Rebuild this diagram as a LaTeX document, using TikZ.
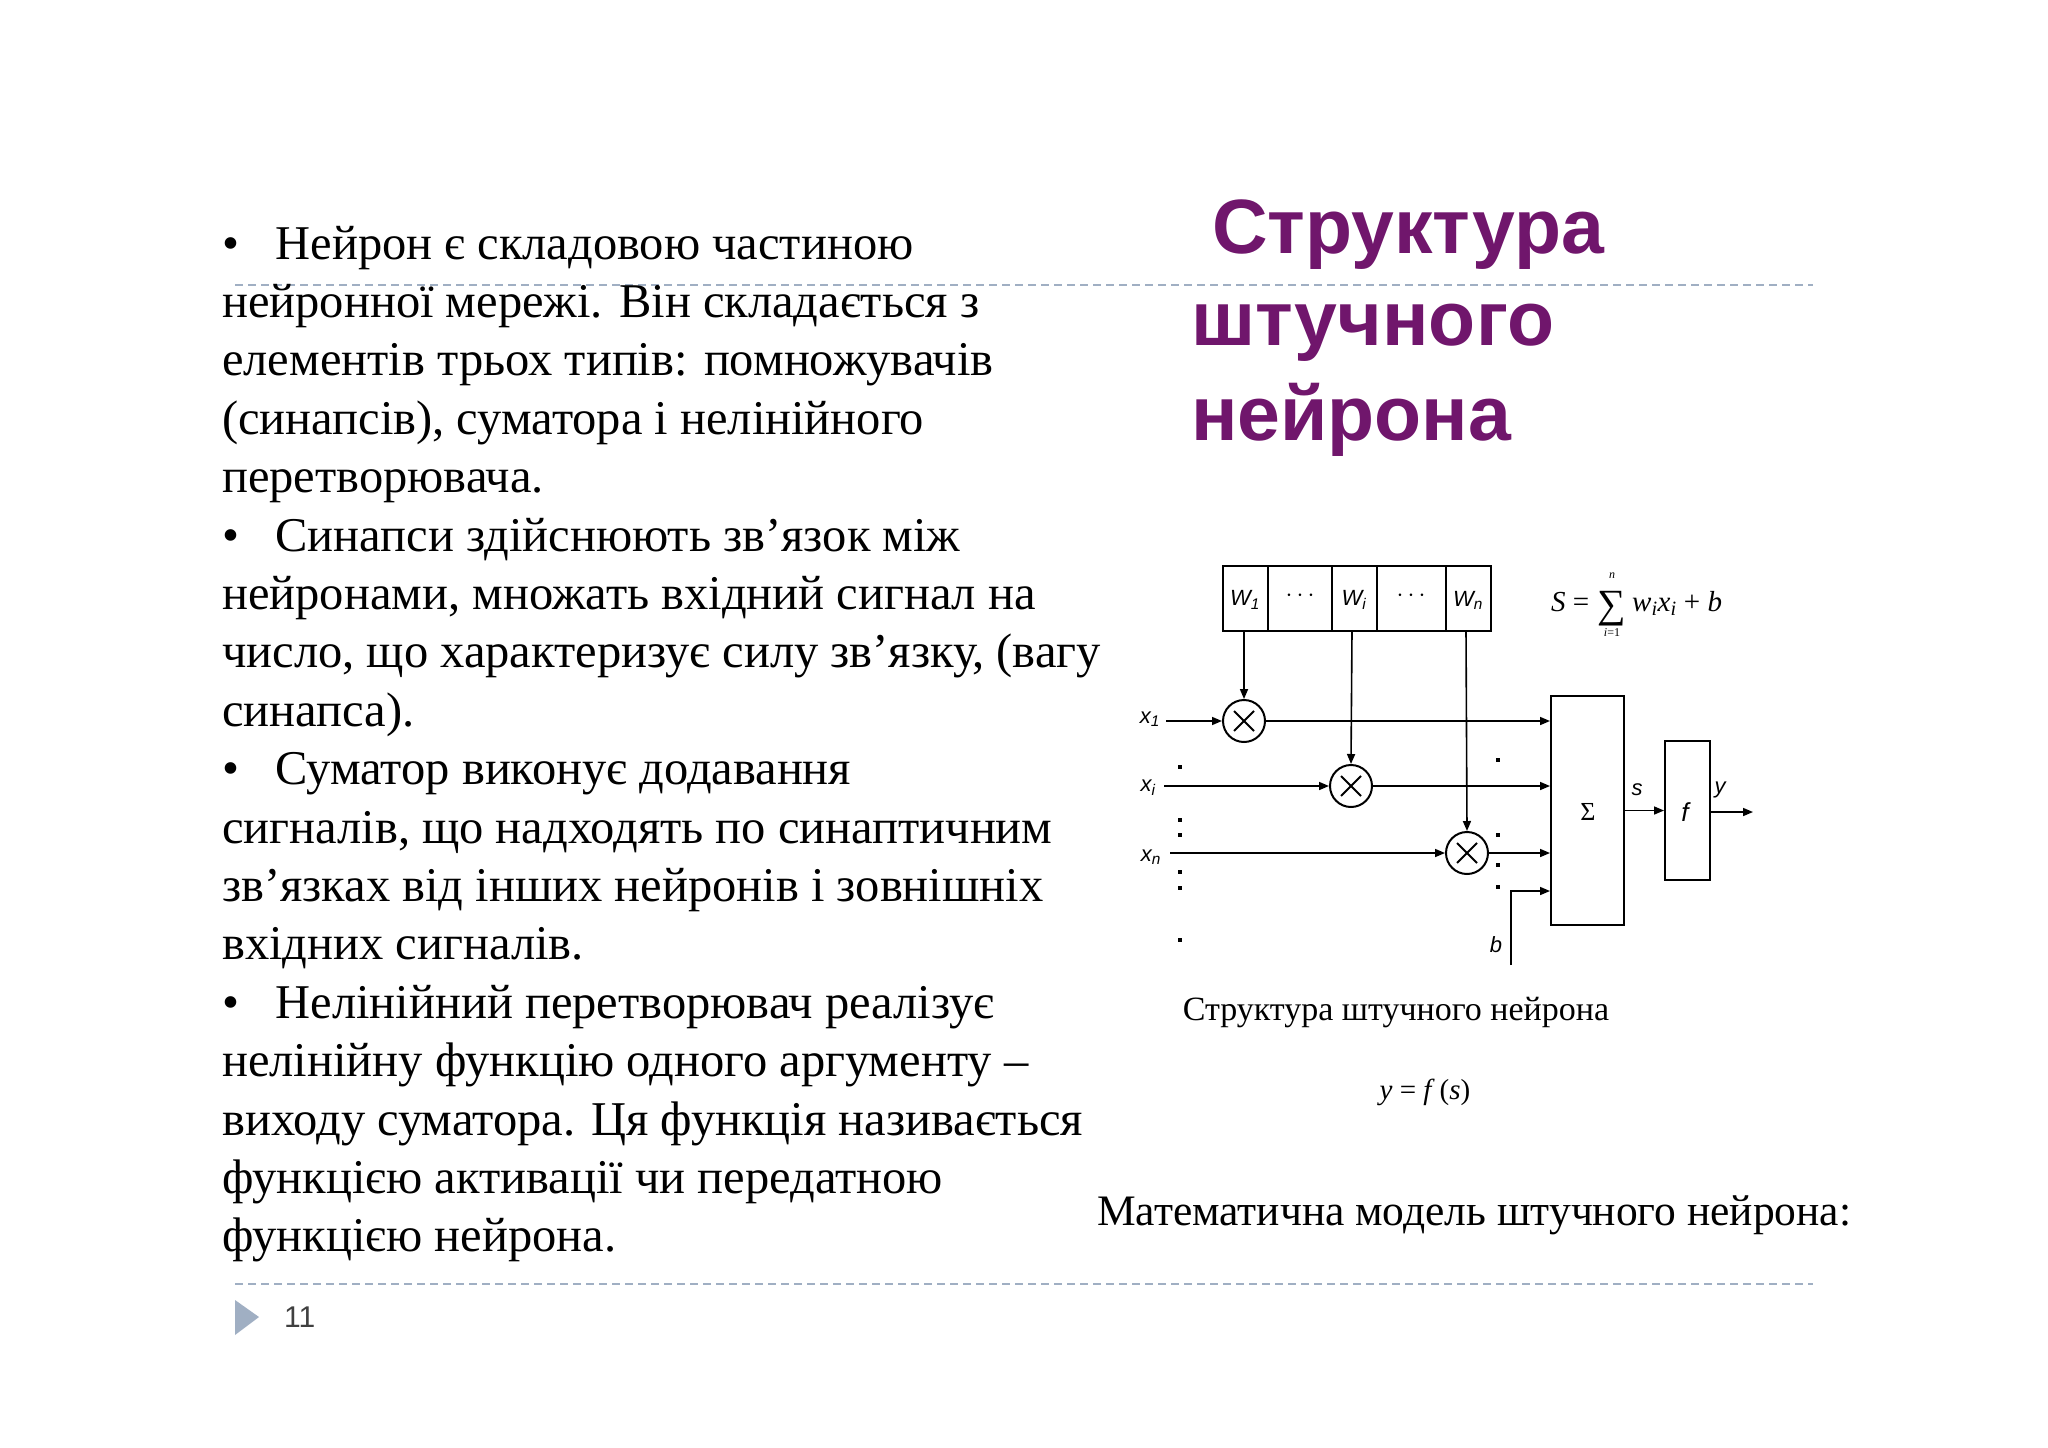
\documentclass[tikz,border=0pt]{standalone}
\usepackage{fontspec}
\setmainfont{Liberation Serif}
\newfontfamily\hsans{Liberation Sans}
\usetikzlibrary{arrows.meta}
\definecolor{titlec}{RGB}{112,22,108}
\definecolor{dashc}{RGB}{160,175,195}
\begin{document}
\begin{tikzpicture}[x=1pt,y=-1pt,
  body/.style={anchor=base west,inner sep=0pt,font=\fontsize{48.5}{52}\selectfont},
  ttl/.style={anchor=base west,inner sep=0pt,text=titlec,font=\hsans\bfseries\fontsize{77}{84}\selectfont},
  lbl/.style={inner sep=0pt,font=\hsans\itshape\fontsize{22}{24}\selectfont},
  ln/.style={line width=1.6pt},
  arr/.style={ln,-{Triangle[length=10pt,width=8pt]}},
  mul/.style={circle,draw,line width=2pt,minimum size=42pt,inner sep=0pt,path picture={\draw[line width=2pt] (path picture bounding box.north west)++(11pt,-11pt) -- ++(20pt,-20pt); \draw[line width=2pt] (path picture bounding box.north east)++(-11pt,-11pt) -- ++(-20pt,-20pt);}},
  dt/.style={fill,inner sep=0pt,minimum size=4pt},
  fm/.style={inner sep=0pt,font=\fontsize{29}{30}\selectfont}]
\useasboundingbox (0,0) rectangle (2048,1448);
\fill[white] (0,0) rectangle (2048,1448);
% dashed lines
\draw[dashc,line width=1.5pt,dash pattern=on 8pt off 5pt] (235,285) -- (1813,285);
\draw[dashc,line width=1.5pt,dash pattern=on 8pt off 5pt] (235,1284) -- (1813,1284);
\fill[dashc] (235,1300) -- (259,1317) -- (235,1335) -- cycle;
\node[anchor=base west,inner sep=0pt,font=\hsans\fontsize{30}{32}\selectfont,text=black!75] (pg) at (284,1327) {11};
% title
\node[ttl] (t1) at (1212,253) {Структура};
\node[ttl] (t2) at (1191,345) {штучного};
\node[ttl] (t3) at (1191,440) {нейрона};
% left text
\foreach \t [count=\i from 0] in {
 {нейронної мережі. Він складається з},
 {елементів трьох типів: помножувачів},
 {(синапсів), суматора і нелінійного},
 {перетворювача.},
 {},
 {нейронами, множать вхідний сигнал на},
 {число, що характеризує силу зв’язку, (вагу},
 {синапса).},
 {},
 {сигналів, що надходять по синаптичним},
 {зв’язках від інших нейронів і зовнішніх},
 {вхідних сигналів.},
 {},
 {нелінійну функцію одного аргументу –},
 {виходу суматора. Ця функція називається},
 {функцією активації чи передатною},
 {функцією нейрона.}}
 {\node[body] (l\i) at (222,{317.4+58.4*\i}) {\t};}
\foreach \t/\k in {{Нейрон є складовою частиною}/0,{Синапси здійснюють зв’язок між}/5,{Суматор виконує додавання}/9,{Нелінійний перетворювач реалізує}/13}
 {\node[body] (bt\k) at (222,{259+58.4*\k}) {•\hspace{0.75em}\t};}
% weights
\draw[line width=2pt] (1223,566) rectangle (1491,631);
\foreach \xx in {1268,1332,1377,1446} \draw[line width=2pt] (\xx,566) -- (\xx,631);
\node[lbl] (w1) at (1245,600) {W\textsubscript{1}};
\node[font=\fontsize{26}{28}\selectfont] (d1) at (1300,596) {$\cdots$};
\node[lbl] (wi) at (1354,600) {W\textsubscript{i}};
\node[font=\fontsize{26}{28}\selectfont] (d2) at (1411,596) {$\cdots$};
\node[lbl] (wn) at (1468,600) {W\textsubscript{n}};
\coordinate (c1) at (1244,631);
\coordinate (ci) at (1352,631);
\coordinate (cn) at (1466,631);
% multipliers
\node[mul] (m1) at (1244,721) {};
\node[mul] (mi) at (1351,786) {};
\node[mul] (mn) at (1467,853) {};
\draw[arr] (c1) -- (m1.north);
\draw[arr] (ci) -- (mi.north);
\draw[arr] (cn) -- (mn.north);
% sum and f
\node[draw,line width=2pt,minimum width=73pt,minimum height=229pt,inner sep=0pt] (S) at (1587.5,810.5) {};
\node[font=\fontsize{26}{28}\selectfont] (sig) at (1588,812) {Σ};
\node[draw,line width=2pt,minimum width=45pt,minimum height=139pt,inner sep=0pt] (F) at (1687.5,810.5) {};
\node[lbl,font=\hsans\itshape\fontsize{26}{28}\selectfont] (fl) at (1685,812) {f};
% inputs
\node[lbl] (x1) at (1150,719) {x\textsubscript{1}};
\node[lbl] (xi) at (1148,788) {x\textsubscript{i}};
\node[lbl] (xn) at (1151,857) {x\textsubscript{n}};
\coordinate (x1s) at (1166,721);
\coordinate (xis) at (1164,786);
\coordinate (xns) at (1170,853);
\draw[arr] (x1s) -- (m1.west);
\draw[arr] (xis) -- (mi.west);
\draw[arr] (xns) -- (mn.west);
\draw[arr] (m1.east) -- (S.west |- m1.east);
\draw[arr] (mi.east) -- (S.west |- mi.east);
\draw[arr] (mn.east) -- (S.west |- mn.east);
\coordinate (bs) at (1511,965);
\coordinate (bk) at (1511,891);
\draw[arr] (bs) -- (bk) -- (S.west |- bk);
\node[lbl] (bl) at (1496,945) {b};
\draw[arr] (S.east |- F.west) -- (F.west);
\node[lbl] (sl) at (1637,790) {s};
\coordinate (yo) at (1753,812);
\draw[arr] (F.east |- yo) -- (yo);
\node[lbl] (yl) at (1720,790) {y};
% dots
\foreach \yy in {767,820,835,872,888,940} \node[dt] at (1180,\yy) {};
\foreach \yy in {760,835,865,887} \node[dt] at (1498,\yy) {};
% formula
\node[fm,anchor=base west] (fS) at (1551,611) {\textit{S} =};
\node[inner sep=0pt,font=\fontsize{40}{40}\selectfont,anchor=base] (fsum) at (1612,617) {∑};
\node[inner sep=0pt,font=\itshape\fontsize{12}{12}\selectfont] (fn) at (1612,576) {n};
\node[inner sep=0pt,font=\fontsize{12}{12}\selectfont] (fi) at (1612,633) {\textit{i}=1};
\node[fm,anchor=base west] (fr) at (1632,611) {\textit{w\textsubscript{i}x\textsubscript{i}} + \textit{b}};
% captions
\node[inner sep=0pt,font=\fontsize{34}{36}\selectfont] (cap) at (1396,1013) {Структура штучного нейрона};
\node[inner sep=0pt,font=\fontsize{29}{30}\selectfont] (yf) at (1425,1092) {\textit{y} = \textit{f}\,(\textit{s})};
\node[anchor=base west,inner sep=0pt,font=\fontsize{43.5}{48}\selectfont] (mm) at (1097,1225) {Математична модель штучного нейрона:};
\end{tikzpicture}
\end{document}
